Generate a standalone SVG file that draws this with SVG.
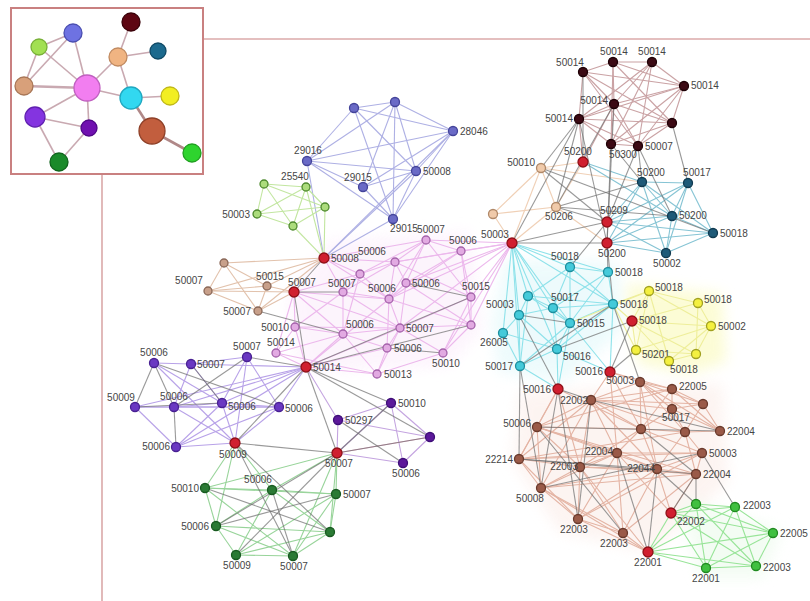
<svg xmlns="http://www.w3.org/2000/svg" width="810" height="601" viewBox="0 0 810 601">
<defs>
<filter id="soft" x="-20%" y="-20%" width="140%" height="140%"><feGaussianBlur stdDeviation="7"/></filter>
</defs>
<style>
text{font-family:"Liberation Sans",Arial,sans-serif;font-size:10px;fill:#454545}
.r{text-anchor:start}.l{text-anchor:end}.m{text-anchor:middle}
line{stroke-width:1.1}
#e-blue line{stroke:#aeb0e4}
#e-lgreen line{stroke:#c2e6a0}
#e-peach line{stroke:#e2c2ac}
#e-pink line{stroke:#ecb8ec}
#e-purple line{stroke:#b8a2e8}
#e-dpurple line{stroke:#c4a4e0}
#e-dgreen line{stroke:#98d49a}
#e-maroon line{stroke:#caa2a4}
#e-qpeach line{stroke:#f0d0b6}
#e-teal line{stroke:#86c4d4}
#e-cyan line{stroke:#8ee2ea}
#e-yellow line{stroke:#eeee9a}
#e-brown line{stroke:#e4b4a4}
#e-bgreen line{stroke:#98e498}
#e-gray line{stroke:#6e6e6e;stroke-opacity:.7}
#e-inset line{stroke:#c9a9b1;stroke-width:1.6}
circle{stroke-width:1.3}
.nb{fill:#6a6ac6;stroke:#44449a}
.ng{fill:#acdc7c;stroke:#4f8a2f}
.np{fill:#c8a08a;stroke:#8a6858}
.nk{fill:#e2aae2;stroke:#a462aa}
.nu{fill:#6a38c2;stroke:#482092}
.nd{fill:#5c189a;stroke:#3e0e78}
.ne{fill:#2a7a34;stroke:#185a20}
.nm{fill:#3c0a14;stroke:#1e0006}
.nq{fill:#f0caaa;stroke:#b08868}
.nt{fill:#1e5a78;stroke:#103a50}
.nc{fill:#44cada;stroke:#1e8e9e}
.ny{fill:#f4f040;stroke:#a0a020}
.nw{fill:#9a5a48;stroke:#6a3a2c}
.nn{fill:#40c040;stroke:#208a20}
.nr{fill:#d02030;stroke:#901018}
</style>
<rect width="810" height="601" fill="#ffffff"/>
<g id="frame" fill="none" stroke="#c98080" stroke-width="2">
<line x1="203" y1="39" x2="810" y2="39"/>
<line x1="102" y1="174" x2="102" y2="601"/>
<rect x="11" y="8" width="192" height="166" fill="#ffffff"/>
</g>
<g id="tints" stroke="none" filter="url(#soft)" opacity="0.7">
<polygon points="330,240 470,232 482,330 448,366 300,372 288,300" fill="#fcf0fc"/>
<polygon points="505,260 618,262 622,330 565,382 498,372 492,322" fill="#e6f9fb"/>
<polygon points="626,284 722,294 726,362 690,374 638,364" fill="#fbfbc4"/>
<polygon points="520,392 722,384 728,482 652,552 560,532 512,460" fill="#fcf0ec"/>
<polygon points="680,498 782,530 762,578 700,578" fill="#eefbee"/>
</g>
<g id="connectors">
<g id="e-inset">
<line x1="73" y1="33" x2="39" y2="47"/><line x1="73" y1="33" x2="24" y2="86"/><line x1="73" y1="33" x2="87" y2="88"/>
<line x1="39" y1="47" x2="24" y2="86"/><line x1="39" y1="47" x2="87" y2="88"/><line x1="24" y1="86" x2="87" y2="88" style="stroke-width:2.4"/>
<line x1="87" y1="88" x2="35" y2="117"/><line x1="87" y1="88" x2="89" y2="128"/><line x1="87" y1="88" x2="118" y2="57"/>
<line x1="87" y1="88" x2="131" y2="98"/><line x1="118" y1="57" x2="131" y2="22"/><line x1="118" y1="57" x2="158" y2="51"/>
<line x1="118" y1="57" x2="131" y2="98"/><line x1="131" y1="98" x2="170" y2="96"/><line x1="131" y1="98" x2="152" y2="131" style="stroke-width:2.6;stroke:#b08888"/>
<line x1="152" y1="131" x2="192" y2="153" style="stroke-width:2.6;stroke:#b08888"/><line x1="35" y1="117" x2="89" y2="128"/>
<line x1="35" y1="117" x2="59" y2="162"/><line x1="89" y1="128" x2="59" y2="162"/>
</g>
<g id="e-blue">
<line x1="354" y1="108" x2="395" y2="102"/><line x1="354" y1="108" x2="453" y2="131"/><line x1="354" y1="108" x2="307" y2="161"/>
<line x1="354" y1="108" x2="416" y2="171"/><line x1="354" y1="108" x2="393" y2="219"/><line x1="395" y1="102" x2="307" y2="161"/>
<line x1="395" y1="102" x2="453" y2="131"/><line x1="395" y1="102" x2="363" y2="187"/><line x1="395" y1="102" x2="393" y2="219"/>
<line x1="395" y1="102" x2="416" y2="171"/><line x1="307" y1="161" x2="453" y2="131"/><line x1="307" y1="161" x2="363" y2="187"/>
<line x1="307" y1="161" x2="393" y2="219"/><line x1="307" y1="161" x2="416" y2="171"/><line x1="363" y1="187" x2="393" y2="219"/>
<line x1="363" y1="187" x2="416" y2="171"/><line x1="453" y1="131" x2="416" y2="171"/><line x1="453" y1="131" x2="393" y2="219"/>
<line x1="416" y1="171" x2="393" y2="219"/><line x1="453" y1="131" x2="363" y2="187"/><line x1="393" y1="219" x2="324" y2="258"/>
<line x1="416" y1="171" x2="324" y2="258"/><line x1="453" y1="131" x2="324" y2="258"/><line x1="307" y1="161" x2="324" y2="258"/>
</g>
<g id="e-lgreen">
<line x1="264" y1="184" x2="306" y2="187"/><line x1="264" y1="184" x2="257" y2="214"/><line x1="264" y1="184" x2="293" y2="226"/>
<line x1="306" y1="187" x2="325" y2="207"/><line x1="306" y1="187" x2="293" y2="226"/><line x1="306" y1="187" x2="257" y2="214"/>
<line x1="325" y1="207" x2="293" y2="226"/><line x1="325" y1="207" x2="257" y2="214"/><line x1="257" y1="214" x2="293" y2="226"/>
<line x1="264" y1="184" x2="325" y2="207"/><line x1="325" y1="207" x2="324" y2="258"/><line x1="293" y1="226" x2="324" y2="258"/>
<line x1="306" y1="187" x2="324" y2="258"/>
</g>
<g id="e-peach">
<line x1="224" y1="263" x2="324" y2="258"/><line x1="208" y1="291" x2="324" y2="258"/><line x1="224" y1="263" x2="267" y2="286"/>
<line x1="224" y1="263" x2="208" y2="291"/><line x1="208" y1="291" x2="267" y2="286"/><line x1="208" y1="291" x2="294" y2="292"/>
<line x1="267" y1="286" x2="294" y2="292"/><line x1="258" y1="311" x2="294" y2="292"/><line x1="224" y1="263" x2="258" y2="311"/>
<line x1="267" y1="286" x2="258" y2="311"/><line x1="208" y1="291" x2="258" y2="311"/><line x1="258" y1="311" x2="324" y2="258"/>
<line x1="267" y1="286" x2="324" y2="258"/>
</g>
<g id="e-pink">
<line x1="324" y1="258" x2="426" y2="240"/><line x1="324" y1="258" x2="395" y2="262"/><line x1="324" y1="258" x2="360" y2="274"/>
<line x1="324" y1="258" x2="343" y2="292"/><line x1="324" y1="258" x2="389" y2="299"/><line x1="294" y1="292" x2="360" y2="274"/>
<line x1="294" y1="292" x2="389" y2="299"/><line x1="294" y1="292" x2="295" y2="327"/><line x1="294" y1="292" x2="343" y2="334"/>
<line x1="294" y1="292" x2="276" y2="353"/><line x1="294" y1="292" x2="400" y2="328"/><line x1="306" y1="367" x2="295" y2="327"/>
<line x1="306" y1="367" x2="343" y2="334"/><line x1="306" y1="367" x2="276" y2="353"/><line x1="306" y1="367" x2="387" y2="348"/>
<line x1="306" y1="367" x2="389" y2="299"/><line x1="306" y1="367" x2="377" y2="374"/><line x1="306" y1="367" x2="400" y2="328"/>
<line x1="426" y1="240" x2="461" y2="251"/><line x1="426" y1="240" x2="395" y2="262"/><line x1="426" y1="240" x2="406" y2="283"/>
<line x1="426" y1="240" x2="471" y2="297"/><line x1="426" y1="240" x2="389" y2="299"/><line x1="426" y1="240" x2="360" y2="274"/>
<line x1="461" y1="251" x2="406" y2="283"/><line x1="461" y1="251" x2="471" y2="297"/><line x1="461" y1="251" x2="389" y2="299"/>
<line x1="461" y1="251" x2="471" y2="325"/><line x1="461" y1="251" x2="395" y2="262"/><line x1="395" y1="262" x2="360" y2="274"/>
<line x1="395" y1="262" x2="389" y2="299"/><line x1="395" y1="262" x2="406" y2="283"/><line x1="395" y1="262" x2="471" y2="297"/>
<line x1="395" y1="262" x2="343" y2="292"/><line x1="360" y1="274" x2="343" y2="292"/><line x1="360" y1="274" x2="389" y2="299"/>
<line x1="360" y1="274" x2="343" y2="334"/><line x1="343" y1="292" x2="389" y2="299"/><line x1="343" y1="292" x2="343" y2="334"/>
<line x1="343" y1="292" x2="295" y2="327"/><line x1="343" y1="292" x2="400" y2="328"/><line x1="389" y1="299" x2="406" y2="283"/>
<line x1="389" y1="299" x2="400" y2="328"/><line x1="389" y1="299" x2="471" y2="325"/><line x1="389" y1="299" x2="387" y2="348"/>
<line x1="406" y1="283" x2="400" y2="328"/><line x1="406" y1="283" x2="471" y2="325"/><line x1="471" y1="297" x2="471" y2="325"/>
<line x1="471" y1="297" x2="443" y2="353"/><line x1="471" y1="297" x2="400" y2="328"/><line x1="400" y1="328" x2="471" y2="325"/>
<line x1="400" y1="328" x2="387" y2="348"/><line x1="400" y1="328" x2="443" y2="353"/><line x1="471" y1="325" x2="443" y2="353"/>
<line x1="387" y1="348" x2="377" y2="374"/><line x1="343" y1="334" x2="400" y2="328"/><line x1="343" y1="334" x2="387" y2="348"/>
<line x1="295" y1="327" x2="343" y2="334"/><line x1="295" y1="327" x2="276" y2="353"/><line x1="276" y1="353" x2="343" y2="334"/>
<line x1="377" y1="374" x2="443" y2="353"/><line x1="377" y1="374" x2="400" y2="328"/><line x1="295" y1="327" x2="400" y2="328"/>
<line x1="276" y1="353" x2="377" y2="374"/><line x1="343" y1="334" x2="377" y2="374"/><line x1="512" y1="243" x2="426" y2="240"/>
<line x1="512" y1="243" x2="461" y2="251"/><line x1="512" y1="243" x2="471" y2="297"/><line x1="512" y1="243" x2="471" y2="325"/>
<line x1="512" y1="243" x2="443" y2="353"/><line x1="512" y1="243" x2="406" y2="283"/><line x1="512" y1="243" x2="395" y2="262"/>
<line x1="512" y1="243" x2="389" y2="299"/><line x1="512" y1="243" x2="400" y2="328"/>
</g>
<g id="e-purple">
<line x1="154" y1="363" x2="191" y2="364"/><line x1="154" y1="363" x2="222" y2="403"/><line x1="191" y1="364" x2="247" y2="357"/>
<line x1="191" y1="364" x2="174" y2="407"/><line x1="191" y1="364" x2="222" y2="403"/><line x1="247" y1="357" x2="222" y2="403"/>
<line x1="247" y1="357" x2="279" y2="407"/><line x1="135" y1="407" x2="174" y2="407"/><line x1="135" y1="407" x2="176" y2="447"/>
<line x1="174" y1="407" x2="222" y2="403"/><line x1="222" y1="403" x2="279" y2="407"/><line x1="222" y1="403" x2="176" y2="447"/>
<line x1="222" y1="403" x2="235" y2="443"/><line x1="174" y1="407" x2="235" y2="443"/><line x1="176" y1="447" x2="235" y2="443"/>
<line x1="279" y1="407" x2="235" y2="443"/><line x1="247" y1="357" x2="235" y2="443"/><line x1="191" y1="364" x2="306" y2="367"/>
<line x1="222" y1="403" x2="306" y2="367"/><line x1="279" y1="407" x2="306" y2="367"/><line x1="174" y1="407" x2="306" y2="367"/>
<line x1="176" y1="447" x2="306" y2="367"/><line x1="135" y1="407" x2="306" y2="367"/><line x1="154" y1="363" x2="235" y2="443"/>
<line x1="174" y1="407" x2="279" y2="407"/><line x1="135" y1="407" x2="279" y2="407"/><line x1="176" y1="447" x2="279" y2="407"/>
</g>
<g id="e-dpurple">
<line x1="391" y1="403" x2="338" y2="420"/><line x1="391" y1="403" x2="430" y2="437"/><line x1="391" y1="403" x2="403" y2="463"/>
<line x1="338" y1="420" x2="430" y2="437"/><line x1="430" y1="437" x2="403" y2="463"/><line x1="338" y1="420" x2="337" y2="453"/>
<line x1="430" y1="437" x2="337" y2="453" style="stroke:#e0a0c0"/><line x1="403" y1="463" x2="337" y2="453"/><line x1="391" y1="403" x2="337" y2="453"/>
<line x1="306" y1="367" x2="338" y2="420"/>
</g>
<g id="e-dgreen">
<line x1="205" y1="488" x2="272" y2="490"/><line x1="205" y1="488" x2="336" y2="494"/><line x1="205" y1="488" x2="216" y2="526"/>
<line x1="205" y1="488" x2="293" y2="556"/><line x1="272" y1="490" x2="336" y2="494"/><line x1="272" y1="490" x2="216" y2="526"/>
<line x1="272" y1="490" x2="330" y2="532"/><line x1="272" y1="490" x2="236" y2="555"/><line x1="336" y1="494" x2="330" y2="532"/>
<line x1="336" y1="494" x2="293" y2="556"/><line x1="216" y1="526" x2="330" y2="532"/><line x1="216" y1="526" x2="236" y2="555"/>
<line x1="216" y1="526" x2="293" y2="556"/><line x1="330" y1="532" x2="236" y2="555"/><line x1="330" y1="532" x2="293" y2="556"/>
<line x1="236" y1="555" x2="293" y2="556"/><line x1="336" y1="494" x2="236" y2="555"/><line x1="235" y1="443" x2="205" y2="488"/>
<line x1="235" y1="443" x2="272" y2="490"/><line x1="235" y1="443" x2="216" y2="526"/><line x1="337" y1="453" x2="336" y2="494"/>
<line x1="337" y1="453" x2="272" y2="490"/><line x1="337" y1="453" x2="330" y2="532"/><line x1="337" y1="453" x2="293" y2="556"/>
<line x1="337" y1="453" x2="205" y2="488"/>
</g>
<g id="e-maroon">
<line x1="583" y1="72" x2="613" y2="62"/><line x1="583" y1="72" x2="684" y2="86"/><line x1="583" y1="72" x2="614" y2="104"/>
<line x1="583" y1="72" x2="579" y2="119"/><line x1="583" y1="72" x2="672" y2="123"/><line x1="583" y1="72" x2="638" y2="146"/>
<line x1="613" y1="62" x2="652" y2="62"/><line x1="613" y1="62" x2="684" y2="86"/><line x1="613" y1="62" x2="614" y2="104"/>
<line x1="613" y1="62" x2="672" y2="123"/><line x1="613" y1="62" x2="611" y2="144"/><line x1="652" y1="62" x2="684" y2="86"/>
<line x1="652" y1="62" x2="614" y2="104"/><line x1="652" y1="62" x2="579" y2="119"/><line x1="652" y1="62" x2="611" y2="144"/>
<line x1="652" y1="62" x2="638" y2="146"/><line x1="684" y1="86" x2="614" y2="104"/><line x1="684" y1="86" x2="579" y2="119"/>
<line x1="684" y1="86" x2="672" y2="123"/><line x1="684" y1="86" x2="611" y2="144"/><line x1="684" y1="86" x2="638" y2="146"/>
<line x1="614" y1="104" x2="579" y2="119"/><line x1="614" y1="104" x2="672" y2="123"/><line x1="614" y1="104" x2="611" y2="144"/>
<line x1="614" y1="104" x2="638" y2="146"/><line x1="579" y1="119" x2="672" y2="123"/><line x1="579" y1="119" x2="611" y2="144"/>
<line x1="579" y1="119" x2="638" y2="146"/><line x1="672" y1="123" x2="611" y2="144"/><line x1="672" y1="123" x2="638" y2="146"/>
<line x1="611" y1="144" x2="638" y2="146"/><line x1="579" y1="119" x2="583" y2="162"/><line x1="614" y1="104" x2="583" y2="162"/>
</g>
<g id="e-qpeach">
<line x1="541" y1="168" x2="493" y2="214"/><line x1="541" y1="168" x2="556" y2="207"/><line x1="493" y1="214" x2="556" y2="207"/>
<line x1="493" y1="214" x2="512" y2="243"/><line x1="541" y1="168" x2="512" y2="243"/><line x1="556" y1="207" x2="512" y2="243"/>
<line x1="541" y1="168" x2="583" y2="162"/><line x1="556" y1="207" x2="583" y2="162"/><line x1="541" y1="168" x2="642" y2="182"/>
<line x1="556" y1="207" x2="607" y2="243"/>
</g>
<g id="e-teal">
<line x1="642" y1="182" x2="688" y2="183"/><line x1="642" y1="182" x2="672" y2="216"/><line x1="642" y1="182" x2="713" y2="233"/>
<line x1="642" y1="182" x2="666" y2="253"/><line x1="688" y1="183" x2="672" y2="216"/><line x1="688" y1="183" x2="713" y2="233"/>
<line x1="688" y1="183" x2="666" y2="253"/><line x1="672" y1="216" x2="713" y2="233"/><line x1="672" y1="216" x2="666" y2="253"/>
<line x1="713" y1="233" x2="666" y2="253"/><line x1="607" y1="222" x2="642" y2="182"/><line x1="607" y1="222" x2="672" y2="216"/>
<line x1="607" y1="222" x2="713" y2="233"/><line x1="607" y1="222" x2="666" y2="253"/><line x1="607" y1="243" x2="642" y2="182"/>
<line x1="607" y1="243" x2="672" y2="216"/><line x1="607" y1="243" x2="713" y2="233"/><line x1="607" y1="243" x2="666" y2="253"/>
<line x1="607" y1="222" x2="688" y2="183"/><line x1="607" y1="243" x2="688" y2="183"/><line x1="583" y1="162" x2="642" y2="182"/>
<line x1="583" y1="162" x2="672" y2="216"/>
</g>
<g id="e-cyan">
<line x1="512" y1="243" x2="570" y2="267"/><line x1="512" y1="243" x2="608" y2="272"/><line x1="512" y1="243" x2="528" y2="296"/>
<line x1="512" y1="243" x2="553" y2="308"/><line x1="512" y1="243" x2="519" y2="315"/><line x1="512" y1="243" x2="570" y2="323"/>
<line x1="512" y1="243" x2="613" y2="304"/><line x1="512" y1="243" x2="503" y2="333"/><line x1="512" y1="243" x2="557" y2="349"/>
<line x1="512" y1="243" x2="520" y2="366"/><line x1="570" y1="267" x2="608" y2="272"/><line x1="570" y1="267" x2="528" y2="296"/>
<line x1="570" y1="267" x2="553" y2="308"/><line x1="570" y1="267" x2="570" y2="323"/><line x1="570" y1="267" x2="613" y2="304"/>
<line x1="608" y1="272" x2="553" y2="308"/><line x1="608" y1="272" x2="570" y2="323"/><line x1="608" y1="272" x2="613" y2="304"/>
<line x1="528" y1="296" x2="553" y2="308"/><line x1="528" y1="296" x2="519" y2="315"/><line x1="528" y1="296" x2="570" y2="323"/>
<line x1="528" y1="296" x2="613" y2="304"/><line x1="553" y1="308" x2="519" y2="315"/><line x1="553" y1="308" x2="570" y2="323"/>
<line x1="553" y1="308" x2="613" y2="304"/><line x1="553" y1="308" x2="557" y2="349"/><line x1="519" y1="315" x2="503" y2="333"/>
<line x1="519" y1="315" x2="557" y2="349"/><line x1="519" y1="315" x2="520" y2="366"/><line x1="570" y1="323" x2="613" y2="304"/>
<line x1="570" y1="323" x2="557" y2="349"/><line x1="570" y1="323" x2="520" y2="366"/><line x1="613" y1="304" x2="557" y2="349"/>
<line x1="503" y1="333" x2="557" y2="349"/><line x1="503" y1="333" x2="520" y2="366"/><line x1="557" y1="349" x2="520" y2="366"/>
<line x1="520" y1="366" x2="558" y2="389"/><line x1="557" y1="349" x2="558" y2="389"/><line x1="570" y1="323" x2="558" y2="389"/>
<line x1="570" y1="323" x2="610" y2="372"/><line x1="557" y1="349" x2="610" y2="372"/><line x1="613" y1="304" x2="610" y2="372"/>
<line x1="528" y1="296" x2="520" y2="366"/>
</g>
<g id="e-yellow">
<line x1="649" y1="291" x2="698" y2="303"/><line x1="649" y1="291" x2="711" y2="326"/><line x1="649" y1="291" x2="632" y2="321"/>
<line x1="649" y1="291" x2="636" y2="350"/><line x1="649" y1="291" x2="669" y2="361"/><line x1="698" y1="303" x2="711" y2="326"/>
<line x1="698" y1="303" x2="632" y2="321"/><line x1="698" y1="303" x2="696" y2="354"/><line x1="711" y1="326" x2="632" y2="321"/>
<line x1="711" y1="326" x2="669" y2="361"/><line x1="711" y1="326" x2="696" y2="354"/><line x1="711" y1="326" x2="636" y2="350"/>
<line x1="632" y1="321" x2="636" y2="350"/><line x1="632" y1="321" x2="669" y2="361"/><line x1="632" y1="321" x2="696" y2="354"/>
<line x1="636" y1="350" x2="669" y2="361"/><line x1="636" y1="350" x2="696" y2="354"/><line x1="669" y1="361" x2="696" y2="354"/>
<line x1="613" y1="304" x2="649" y2="291"/><line x1="613" y1="304" x2="632" y2="321"/><line x1="570" y1="323" x2="649" y2="291"/>
<line x1="613" y1="304" x2="636" y2="350"/>
</g>
<g id="e-brown">
<line x1="591" y1="400" x2="640" y2="382"/><line x1="591" y1="400" x2="672" y2="389"/><line x1="591" y1="400" x2="672" y2="409"/>
<line x1="591" y1="400" x2="641" y2="429"/><line x1="591" y1="400" x2="685" y2="432"/><line x1="591" y1="400" x2="537" y2="427"/>
<line x1="591" y1="400" x2="617" y2="453"/><line x1="591" y1="400" x2="580" y2="467"/><line x1="591" y1="400" x2="657" y2="469"/>
<line x1="591" y1="400" x2="519" y2="459"/><line x1="591" y1="400" x2="541" y2="488"/><line x1="640" y1="382" x2="672" y2="389"/>
<line x1="640" y1="382" x2="703" y2="404"/><line x1="640" y1="382" x2="672" y2="409"/><line x1="640" y1="382" x2="641" y2="429"/>
<line x1="640" y1="382" x2="685" y2="432"/><line x1="640" y1="382" x2="720" y2="431"/><line x1="672" y1="389" x2="703" y2="404"/>
<line x1="672" y1="389" x2="672" y2="409"/><line x1="672" y1="389" x2="641" y2="429"/><line x1="672" y1="389" x2="720" y2="431"/>
<line x1="703" y1="404" x2="672" y2="409"/><line x1="703" y1="404" x2="720" y2="431"/><line x1="703" y1="404" x2="685" y2="432"/>
<line x1="672" y1="409" x2="641" y2="429"/><line x1="672" y1="409" x2="685" y2="432"/><line x1="672" y1="409" x2="720" y2="431"/>
<line x1="641" y1="429" x2="685" y2="432"/><line x1="641" y1="429" x2="617" y2="453"/><line x1="641" y1="429" x2="580" y2="467"/>
<line x1="641" y1="429" x2="657" y2="469"/><line x1="641" y1="429" x2="702" y2="453"/><line x1="641" y1="429" x2="537" y2="427"/>
<line x1="685" y1="432" x2="720" y2="431"/><line x1="685" y1="432" x2="702" y2="453"/><line x1="685" y1="432" x2="657" y2="469"/>
<line x1="685" y1="432" x2="696" y2="474"/><line x1="537" y1="427" x2="617" y2="453"/><line x1="537" y1="427" x2="580" y2="467"/>
<line x1="537" y1="427" x2="519" y2="459"/><line x1="537" y1="427" x2="541" y2="488"/><line x1="537" y1="427" x2="657" y2="469"/>
<line x1="617" y1="453" x2="580" y2="467"/><line x1="617" y1="453" x2="657" y2="469"/><line x1="617" y1="453" x2="702" y2="453"/>
<line x1="617" y1="453" x2="519" y2="459"/><line x1="617" y1="453" x2="541" y2="488"/><line x1="617" y1="453" x2="578" y2="519"/>
<line x1="617" y1="453" x2="623" y2="533"/><line x1="580" y1="467" x2="657" y2="469"/><line x1="580" y1="467" x2="519" y2="459"/>
<line x1="580" y1="467" x2="541" y2="488"/><line x1="580" y1="467" x2="578" y2="519"/><line x1="580" y1="467" x2="623" y2="533"/>
<line x1="657" y1="469" x2="702" y2="453"/><line x1="657" y1="469" x2="696" y2="474"/><line x1="657" y1="469" x2="541" y2="488"/>
<line x1="657" y1="469" x2="578" y2="519"/><line x1="657" y1="469" x2="623" y2="533"/><line x1="702" y1="453" x2="696" y2="474"/>
<line x1="702" y1="453" x2="519" y2="459"/><line x1="696" y1="474" x2="541" y2="488"/><line x1="696" y1="474" x2="623" y2="533"/>
<line x1="519" y1="459" x2="541" y2="488"/><line x1="519" y1="459" x2="578" y2="519"/><line x1="541" y1="488" x2="578" y2="519"/>
<line x1="541" y1="488" x2="623" y2="533"/><line x1="578" y1="519" x2="623" y2="533"/><line x1="578" y1="519" x2="648" y2="552"/>
<line x1="623" y1="533" x2="648" y2="552"/><line x1="541" y1="488" x2="648" y2="552"/><line x1="580" y1="467" x2="648" y2="552"/>
<line x1="657" y1="469" x2="671" y2="513"/><line x1="696" y1="474" x2="671" y2="513"/><line x1="617" y1="453" x2="671" y2="513"/>
<line x1="558" y1="389" x2="537" y2="427"/><line x1="558" y1="389" x2="519" y2="459"/><line x1="558" y1="389" x2="580" y2="467"/>
<line x1="558" y1="389" x2="641" y2="429"/><line x1="610" y1="372" x2="591" y2="400"/><line x1="610" y1="372" x2="640" y2="382"/>
<line x1="610" y1="372" x2="672" y2="389"/><line x1="610" y1="372" x2="641" y2="429"/><line x1="610" y1="372" x2="617" y2="453"/>
<line x1="537" y1="427" x2="672" y2="389"/><line x1="519" y1="459" x2="685" y2="432"/><line x1="591" y1="400" x2="703" y2="404"/>
<line x1="640" y1="382" x2="657" y2="469"/><line x1="580" y1="467" x2="696" y2="474"/><line x1="578" y1="519" x2="702" y2="453"/>
<line x1="537" y1="427" x2="696" y2="474"/>
</g>
<g id="e-bgreen">
<line x1="696" y1="504" x2="735" y2="507"/><line x1="696" y1="504" x2="773" y2="533"/><line x1="696" y1="504" x2="706" y2="568"/>
<line x1="696" y1="504" x2="756" y2="566"/><line x1="735" y1="507" x2="773" y2="533"/><line x1="735" y1="507" x2="706" y2="568"/>
<line x1="735" y1="507" x2="756" y2="566"/><line x1="773" y1="533" x2="706" y2="568"/><line x1="773" y1="533" x2="756" y2="566"/>
<line x1="706" y1="568" x2="756" y2="566"/><line x1="671" y1="513" x2="696" y2="504"/><line x1="671" y1="513" x2="735" y2="507"/>
<line x1="671" y1="513" x2="773" y2="533"/><line x1="671" y1="513" x2="706" y2="568"/><line x1="671" y1="513" x2="756" y2="566"/>
<line x1="648" y1="552" x2="696" y2="504"/><line x1="648" y1="552" x2="735" y2="507"/><line x1="648" y1="552" x2="773" y2="533"/>
<line x1="648" y1="552" x2="706" y2="568"/><line x1="648" y1="552" x2="756" y2="566"/><line x1="648" y1="552" x2="671" y2="513"/>
</g>
<g id="e-gray">
<line x1="324" y1="258" x2="294" y2="292"/><line x1="294" y1="292" x2="306" y2="367"/><line x1="306" y1="367" x2="235" y2="443"/>
<line x1="306" y1="367" x2="337" y2="453"/><line x1="235" y1="443" x2="337" y2="453"/><line x1="258" y1="311" x2="343" y2="334"/>
<line x1="294" y1="292" x2="343" y2="292"/><line x1="306" y1="367" x2="471" y2="297"/><line x1="306" y1="367" x2="471" y2="325"/>
<line x1="406" y1="283" x2="471" y2="297"/><line x1="387" y1="348" x2="443" y2="353"/><line x1="154" y1="363" x2="279" y2="407"/>
<line x1="154" y1="363" x2="135" y2="407"/><line x1="154" y1="363" x2="174" y2="407"/><line x1="247" y1="357" x2="174" y2="407"/>
<line x1="135" y1="407" x2="222" y2="403"/><line x1="191" y1="364" x2="222" y2="403"/><line x1="247" y1="357" x2="306" y2="367"/>
<line x1="174" y1="407" x2="176" y2="447"/><line x1="306" y1="367" x2="391" y2="403"/><line x1="306" y1="367" x2="430" y2="437"/>
<line x1="337" y1="453" x2="391" y2="403"/><line x1="337" y1="453" x2="430" y2="437"/><line x1="338" y1="420" x2="403" y2="463"/>
<line x1="235" y1="443" x2="330" y2="532"/><line x1="235" y1="443" x2="293" y2="556"/><line x1="337" y1="453" x2="216" y2="526"/>
<line x1="337" y1="453" x2="236" y2="555"/><line x1="205" y1="488" x2="330" y2="532"/><line x1="272" y1="490" x2="293" y2="556"/>
<line x1="216" y1="526" x2="336" y2="494"/><line x1="579" y1="119" x2="541" y2="168"/><line x1="579" y1="119" x2="556" y2="207"/>
<line x1="579" y1="119" x2="512" y2="243"/><line x1="614" y1="104" x2="556" y2="207"/><line x1="614" y1="104" x2="607" y2="243"/>
<line x1="611" y1="144" x2="607" y2="243"/><line x1="638" y1="146" x2="607" y2="222"/><line x1="579" y1="119" x2="607" y2="243"/>
<line x1="611" y1="144" x2="642" y2="182"/><line x1="638" y1="146" x2="642" y2="182"/><line x1="672" y1="123" x2="688" y2="183"/>
<line x1="638" y1="146" x2="672" y2="216"/><line x1="583" y1="72" x2="583" y2="162"/><line x1="541" y1="168" x2="607" y2="222"/>
<line x1="541" y1="168" x2="713" y2="233"/><line x1="556" y1="207" x2="642" y2="182"/><line x1="556" y1="207" x2="672" y2="216"/>
<line x1="556" y1="207" x2="607" y2="222"/><line x1="512" y1="243" x2="607" y2="243"/><line x1="512" y1="243" x2="607" y2="222"/>
<line x1="607" y1="243" x2="608" y2="272"/><line x1="607" y1="222" x2="570" y2="267"/><line x1="607" y1="243" x2="613" y2="304"/>
<line x1="520" y1="366" x2="613" y2="304"/><line x1="519" y1="315" x2="558" y2="389"/><line x1="519" y1="315" x2="570" y2="323"/>
<line x1="557" y1="349" x2="632" y2="321"/><line x1="520" y1="366" x2="519" y2="459"/><line x1="520" y1="366" x2="541" y2="488"/>
<line x1="558" y1="389" x2="541" y2="488"/><line x1="632" y1="321" x2="610" y2="372"/><line x1="636" y1="350" x2="610" y2="372"/>
<line x1="613" y1="304" x2="640" y2="382"/><line x1="519" y1="459" x2="696" y2="474"/><line x1="541" y1="488" x2="702" y2="453"/>
<line x1="591" y1="400" x2="720" y2="431"/><line x1="537" y1="427" x2="720" y2="431"/><line x1="641" y1="429" x2="696" y2="474"/>
<line x1="657" y1="469" x2="696" y2="504"/><line x1="702" y1="453" x2="735" y2="507"/><line x1="696" y1="474" x2="696" y2="504"/>
<line x1="657" y1="469" x2="648" y2="552"/><line x1="617" y1="453" x2="648" y2="552"/><line x1="696" y1="474" x2="671" y2="513"/>
<line x1="558" y1="389" x2="578" y2="519"/><line x1="537" y1="427" x2="623" y2="533"/><line x1="519" y1="459" x2="657" y2="469"/>
<line x1="558" y1="389" x2="591" y2="400"/><line x1="591" y1="400" x2="578" y2="519"/>
</g>
</g>
<g id="inset-nodes" stroke-width="1.5">
<g id="i-blue"><circle cx="73" cy="33" r="9" fill="#6e72e2" stroke="#4a4eb0"/></g>
<g id="i-lgreen"><circle cx="39" cy="47" r="8" fill="#a2e052" stroke="#78b038"/></g>
<g id="i-maroon"><circle cx="131" cy="22" r="9" fill="#5e0612" stroke="#3a0008"/></g>
<g id="i-peach"><circle cx="118" cy="57" r="9" fill="#f0b482" stroke="#c08a60"/></g>
<g id="i-teal"><circle cx="158" cy="51" r="8" fill="#1c6a8e" stroke="#104a66"/></g>
<g id="i-tan"><circle cx="24" cy="86" r="9" fill="#d8a07a" stroke="#a87656"/></g>
<g id="i-pink"><circle cx="87" cy="88" r="13" fill="#f27ef0" stroke="#c060c0"/></g>
<g id="i-cyan"><circle cx="131" cy="98" r="11" fill="#32d8f0" stroke="#20a8c0"/></g>
<g id="i-yellow"><circle cx="170" cy="96" r="9" fill="#f2ee22" stroke="#c0b818"/></g>
<g id="i-purple"><circle cx="35" cy="117" r="10" fill="#8434e0" stroke="#6020b0"/></g>
<g id="i-dpurple"><circle cx="89" cy="128" r="8" fill="#7010b0" stroke="#500888"/></g>
<g id="i-brown"><circle cx="152" cy="131" r="13" fill="#c25e3e" stroke="#8e4028"/></g>
<g id="i-dgreen"><circle cx="59" cy="162" r="9" fill="#1a8a2a" stroke="#10641c"/></g>
<g id="i-bgreen"><circle cx="192" cy="153" r="9" fill="#2ed42e" stroke="#20a020"/></g>
</g>
<g id="nodes">
<g id="b1"><circle class="nb" cx="354" cy="108" r="4.5"/></g>
<g id="b2"><circle class="nb" cx="395" cy="102" r="4.5"/></g>
<g id="b3"><circle class="nb" cx="453" cy="131" r="4.5"/><text class="r" x="460" y="135">28046</text></g>
<g id="b4"><circle class="nb" cx="307" cy="161" r="4.5"/><text class="m" x="308" y="154">29016</text></g>
<g id="b5"><circle class="nb" cx="363" cy="187" r="4.5"/><text class="m" x="358" y="181">29015</text></g>
<g id="b6"><circle class="nb" cx="416" cy="171" r="4.5"/><text class="r" x="423" y="175">50008</text></g>
<g id="b7"><circle class="nb" cx="393" cy="219" r="4.5"/><text class="m" x="404" y="232">29015</text></g>
<g id="g1"><circle class="ng" cx="264" cy="184" r="4"/></g>
<g id="g2"><circle class="ng" cx="306" cy="187" r="4"/><text class="m" x="295" y="180">25540</text></g>
<g id="g3"><circle class="ng" cx="325" cy="207" r="4"/></g>
<g id="g4"><circle class="ng" cx="257" cy="214" r="4"/><text class="l" x="250" y="218">50003</text></g>
<g id="g5"><circle class="ng" cx="293" cy="226" r="4"/></g>
<g id="r1"><circle class="nr" cx="324" cy="258" r="5"/><text class="r" x="331" y="262">50008</text></g>
<g id="p1"><circle class="np" cx="224" cy="263" r="4"/></g>
<g id="p2"><circle class="np" cx="208" cy="291" r="4"/><text class="m" x="189" y="284">50007</text></g>
<g id="p3"><circle class="np" cx="267" cy="286" r="4"/><text class="m" x="270" y="280">50015</text></g>
<g id="p4"><circle class="np" cx="258" cy="311" r="4"/><text class="l" x="251" y="315">50007</text></g>
<g id="r2"><circle class="nr" cx="294" cy="292" r="5"/><text class="m" x="302" y="286">50007</text></g>
<g id="k1"><circle class="nk" cx="426" cy="240" r="4"/><text class="m" x="431" y="233">50007</text></g>
<g id="k2"><circle class="nk" cx="461" cy="251" r="4"/><text class="m" x="463" y="244">50006</text></g>
<g id="k3"><circle class="nk" cx="395" cy="262" r="4"/><text class="m" x="372" y="255">50006</text></g>
<g id="k4"><circle class="nk" cx="360" cy="274" r="4"/></g>
<g id="k5"><circle class="nk" cx="343" cy="292" r="4"/><text class="m" x="342" y="287">50007</text></g>
<g id="k6"><circle class="nk" cx="389" cy="299" r="4"/><text class="m" x="382" y="292">50006</text></g>
<g id="k7"><circle class="nk" cx="406" cy="283" r="4"/><text class="r" x="412" y="287">50006</text></g>
<g id="k8"><circle class="nk" cx="471" cy="297" r="4"/><text class="m" x="476" y="290">50015</text></g>
<g id="k9"><circle class="nk" cx="295" cy="327" r="4"/><text class="l" x="289" y="331">50010</text></g>
<g id="k10"><circle class="nk" cx="343" cy="334" r="4"/><text class="m" x="360" y="328">50006</text></g>
<g id="k11"><circle class="nk" cx="400" cy="328" r="4"/><text class="r" x="406" y="332">50007</text></g>
<g id="k12"><circle class="nk" cx="471" cy="325" r="4"/></g>
<g id="k13"><circle class="nk" cx="276" cy="353" r="4"/><text class="m" x="281" y="346">50014</text></g>
<g id="k14"><circle class="nk" cx="387" cy="348" r="4"/><text class="r" x="394" y="352">50006</text></g>
<g id="k15"><circle class="nk" cx="443" cy="353" r="4"/><text class="m" x="446" y="367">50010</text></g>
<g id="k16"><circle class="nk" cx="377" cy="374" r="4"/><text class="r" x="384" y="378">50013</text></g>
<g id="r3"><circle class="nr" cx="306" cy="367" r="5"/><text class="r" x="313" y="371">50014</text></g>
<g id="u1"><circle class="nu" cx="154" cy="363" r="4.5"/><text class="m" x="154" y="356">50006</text></g>
<g id="u2"><circle class="nu" cx="191" cy="364" r="4.5"/><text class="r" x="197" y="368">50007</text></g>
<g id="u3"><circle class="nu" cx="247" cy="357" r="4.5"/><text class="m" x="247" y="350">50007</text></g>
<g id="u4"><circle class="nu" cx="135" cy="407" r="4.5"/><text class="m" x="121" y="401">50009</text></g>
<g id="u5"><circle class="nu" cx="174" cy="407" r="4.5"/><text class="m" x="174" y="400">50006</text></g>
<g id="u6"><circle class="nu" cx="222" cy="403" r="4.5"/><text class="r" x="228" y="410">50006</text></g>
<g id="u7"><circle class="nu" cx="279" cy="407" r="4.5"/><text class="r" x="285" y="412">50006</text></g>
<g id="u8"><circle class="nu" cx="176" cy="447" r="4.5"/><text class="l" x="170" y="450">50006</text></g>
<g id="r4"><circle class="nr" cx="235" cy="443" r="5"/><text class="m" x="233" y="458">50009</text></g>
<g id="d1"><circle class="nd" cx="391" cy="403" r="4.5"/><text class="r" x="398" y="407">50010</text></g>
<g id="d2"><circle class="nd" cx="338" cy="420" r="4.5"/><text class="r" x="345" y="424">50297</text></g>
<g id="d3"><circle class="nd" cx="430" cy="437" r="4.5"/></g>
<g id="d4"><circle class="nd" cx="403" cy="463" r="4.5"/><text class="m" x="406" y="477">50006</text></g>
<g id="r5"><circle class="nr" cx="337" cy="453" r="5"/><text class="m" x="339" y="467">50007</text></g>
<g id="e1"><circle class="ne" cx="205" cy="488" r="4.5"/><text class="l" x="199" y="492">50010</text></g>
<g id="e2"><circle class="ne" cx="272" cy="490" r="4.5"/><text class="m" x="258" y="483">50006</text></g>
<g id="e3"><circle class="ne" cx="336" cy="494" r="4.5"/><text class="r" x="343" y="498">50007</text></g>
<g id="e4"><circle class="ne" cx="216" cy="526" r="4.5"/><text class="l" x="209" y="530">50006</text></g>
<g id="e5"><circle class="ne" cx="330" cy="532" r="4.5"/></g>
<g id="e6"><circle class="ne" cx="236" cy="555" r="4.5"/><text class="m" x="237" y="569">50009</text></g>
<g id="e7"><circle class="ne" cx="293" cy="556" r="4.5"/><text class="m" x="294" y="570">50007</text></g>
<g id="m1"><circle class="nm" cx="583" cy="72" r="4.5"/><text class="m" x="570" y="66">50014</text></g>
<g id="m2"><circle class="nm" cx="613" cy="62" r="4.5"/><text class="m" x="614" y="55">50014</text></g>
<g id="m3"><circle class="nm" cx="652" cy="62" r="4.5"/><text class="m" x="652" y="55">50014</text></g>
<g id="m4"><circle class="nm" cx="684" cy="86" r="4.5"/><text class="r" x="691" y="89">50014</text></g>
<g id="m5"><circle class="nm" cx="614" cy="104" r="4.5"/><text class="l" x="608" y="104">50014</text></g>
<g id="m6"><circle class="nm" cx="579" cy="119" r="4.5"/><text class="l" x="573" y="122">50014</text></g>
<g id="m7"><circle class="nm" cx="672" cy="123" r="4.5"/></g>
<g id="m8"><circle class="nm" cx="611" cy="144" r="4.5"/><text class="m" x="623" y="158">50300</text></g>
<g id="m9"><circle class="nm" cx="638" cy="146" r="4.5"/><text class="r" x="645" y="150">50007</text></g>
<g id="r6"><circle class="nr" cx="583" cy="162" r="5"/><text class="m" x="578" y="155">50200</text></g>
<g id="q1"><circle class="nq" cx="541" cy="168" r="4.5"/><text class="l" x="535" y="166">50010</text></g>
<g id="q2"><circle class="nq" cx="493" cy="214" r="4.5"/></g>
<g id="q3"><circle class="nq" cx="556" cy="207" r="4.5"/><text class="m" x="559" y="220">50206</text></g>
<g id="r7"><circle class="nr" cx="512" cy="243" r="5"/><text class="m" x="495" y="238">50003</text></g>
<g id="t1"><circle class="nt" cx="642" cy="182" r="4.5"/><text class="m" x="651" y="176">50200</text></g>
<g id="t2"><circle class="nt" cx="688" cy="183" r="4.5"/><text class="m" x="697" y="176">50017</text></g>
<g id="t3"><circle class="nt" cx="672" cy="216" r="4.5"/><text class="r" x="679" y="219">50200</text></g>
<g id="t4"><circle class="nt" cx="713" cy="233" r="4.5"/><text class="r" x="720" y="237">50018</text></g>
<g id="t5"><circle class="nt" cx="666" cy="253" r="4.5"/><text class="m" x="667" y="267">50002</text></g>
<g id="r8"><circle class="nr" cx="607" cy="222" r="5"/><text class="m" x="614" y="214">50209</text></g>
<g id="r9"><circle class="nr" cx="607" cy="243" r="5"/><text class="m" x="612" y="257">50200</text></g>
<g id="c1"><circle class="nc" cx="570" cy="267" r="4.5"/><text class="m" x="565" y="260">50018</text></g>
<g id="c2"><circle class="nc" cx="608" cy="272" r="4.5"/><text class="r" x="615" y="276">50018</text></g>
<g id="c3"><circle class="nc" cx="528" cy="296" r="4.5"/></g>
<g id="c4"><circle class="nc" cx="553" cy="308" r="4.5"/><text class="m" x="565" y="301">50017</text></g>
<g id="c5"><circle class="nc" cx="519" cy="315" r="4.5"/><text class="m" x="500" y="308">50003</text></g>
<g id="c6"><circle class="nc" cx="570" cy="323" r="4.5"/><text class="r" x="577" y="327">50015</text></g>
<g id="c7"><circle class="nc" cx="613" cy="304" r="4.5"/><text class="r" x="620" y="308">50018</text></g>
<g id="c8"><circle class="nc" cx="503" cy="333" r="4.5"/><text class="m" x="494" y="346">26005</text></g>
<g id="c9"><circle class="nc" cx="557" cy="349" r="4.5"/><text class="m" x="577" y="360">50016</text></g>
<g id="c10"><circle class="nc" cx="520" cy="366" r="4.5"/><text class="l" x="513" y="370">50017</text></g>
<g id="r10"><circle class="nr" cx="558" cy="389" r="5"/><text class="l" x="551" y="393">50016</text></g>
<g id="r11"><circle class="nr" cx="610" cy="372" r="5"/><text class="l" x="603" y="375">50016</text></g>
<g id="y1"><circle class="ny" cx="649" cy="291" r="4.5"/><text class="r" x="655" y="291">50018</text></g>
<g id="y2"><circle class="ny" cx="698" cy="303" r="4.5"/><text class="r" x="704" y="303">50018</text></g>
<g id="y3"><circle class="ny" cx="711" cy="326" r="4.5"/><text class="r" x="718" y="330">50002</text></g>
<g id="r12"><circle class="nr" cx="632" cy="321" r="5"/><text class="r" x="639" y="324">50018</text></g>
<g id="y4"><circle class="ny" cx="636" cy="350" r="4.5"/><text class="r" x="642" y="358">50201</text></g>
<g id="y5"><circle class="ny" cx="669" cy="361" r="4.5"/><text class="m" x="684" y="373">50018</text></g>
<g id="y6"><circle class="ny" cx="696" cy="354" r="4.5"/></g>
<g id="w1"><circle class="nw" cx="591" cy="400" r="4.5"/><text class="l" x="588" y="404">22002</text></g>
<g id="w2"><circle class="nw" cx="640" cy="382" r="4.5"/><text class="l" x="634" y="384">50003</text></g>
<g id="w3"><circle class="nw" cx="672" cy="389" r="4.5"/><text class="r" x="679" y="390">22005</text></g>
<g id="w4"><circle class="nw" cx="703" cy="404" r="4.5"/></g>
<g id="w5"><circle class="nw" cx="672" cy="409" r="4.5"/><text class="m" x="676" y="421">50017</text></g>
<g id="w6"><circle class="nw" cx="641" cy="429" r="4.5"/></g>
<g id="w7"><circle class="nw" cx="685" cy="432" r="4.5"/></g>
<g id="w8"><circle class="nw" cx="720" cy="431" r="4.5"/><text class="r" x="727" y="435">22004</text></g>
<g id="w9"><circle class="nw" cx="537" cy="427" r="4.5"/><text class="l" x="531" y="427">50006</text></g>
<g id="w10"><circle class="nw" cx="617" cy="453" r="4.5"/><text class="l" x="613" y="455">22004</text></g>
<g id="w11"><circle class="nw" cx="580" cy="467" r="4.5"/><text class="l" x="578" y="470">22003</text></g>
<g id="w12"><circle class="nw" cx="657" cy="469" r="4.5"/><text class="l" x="655" y="472">22044</text></g>
<g id="w13"><circle class="nw" cx="702" cy="453" r="4.5"/><text class="r" x="709" y="457">50003</text></g>
<g id="w14"><circle class="nw" cx="696" cy="474" r="4.5"/><text class="r" x="703" y="478">22004</text></g>
<g id="w15"><circle class="nw" cx="519" cy="459" r="4.5"/><text class="l" x="513" y="463">22214</text></g>
<g id="w16"><circle class="nw" cx="541" cy="488" r="4.5"/><text class="m" x="530" y="502">50008</text></g>
<g id="w17"><circle class="nw" cx="578" cy="519" r="4.5"/><text class="m" x="574" y="533">22003</text></g>
<g id="w18"><circle class="nw" cx="623" cy="533" r="4.5"/><text class="m" x="614" y="547">22003</text></g>
<g id="r13"><circle class="nr" cx="648" cy="552" r="5"/><text class="m" x="648" y="566">22001</text></g>
<g id="r14"><circle class="nr" cx="671" cy="513" r="5"/><text class="r" x="677" y="525">22002</text></g>
<g id="n1"><circle class="nn" cx="696" cy="504" r="4.5"/></g>
<g id="n2"><circle class="nn" cx="735" cy="507" r="4.5"/><text class="r" x="743" y="509">22003</text></g>
<g id="n3"><circle class="nn" cx="773" cy="533" r="4.5"/><text class="r" x="780" y="537">22005</text></g>
<g id="n4"><circle class="nn" cx="706" cy="568" r="4.5"/><text class="m" x="706" y="582">22001</text></g>
<g id="n5"><circle class="nn" cx="756" cy="566" r="4.5"/><text class="r" x="763" y="571">22003</text></g>
</g>
</svg>
